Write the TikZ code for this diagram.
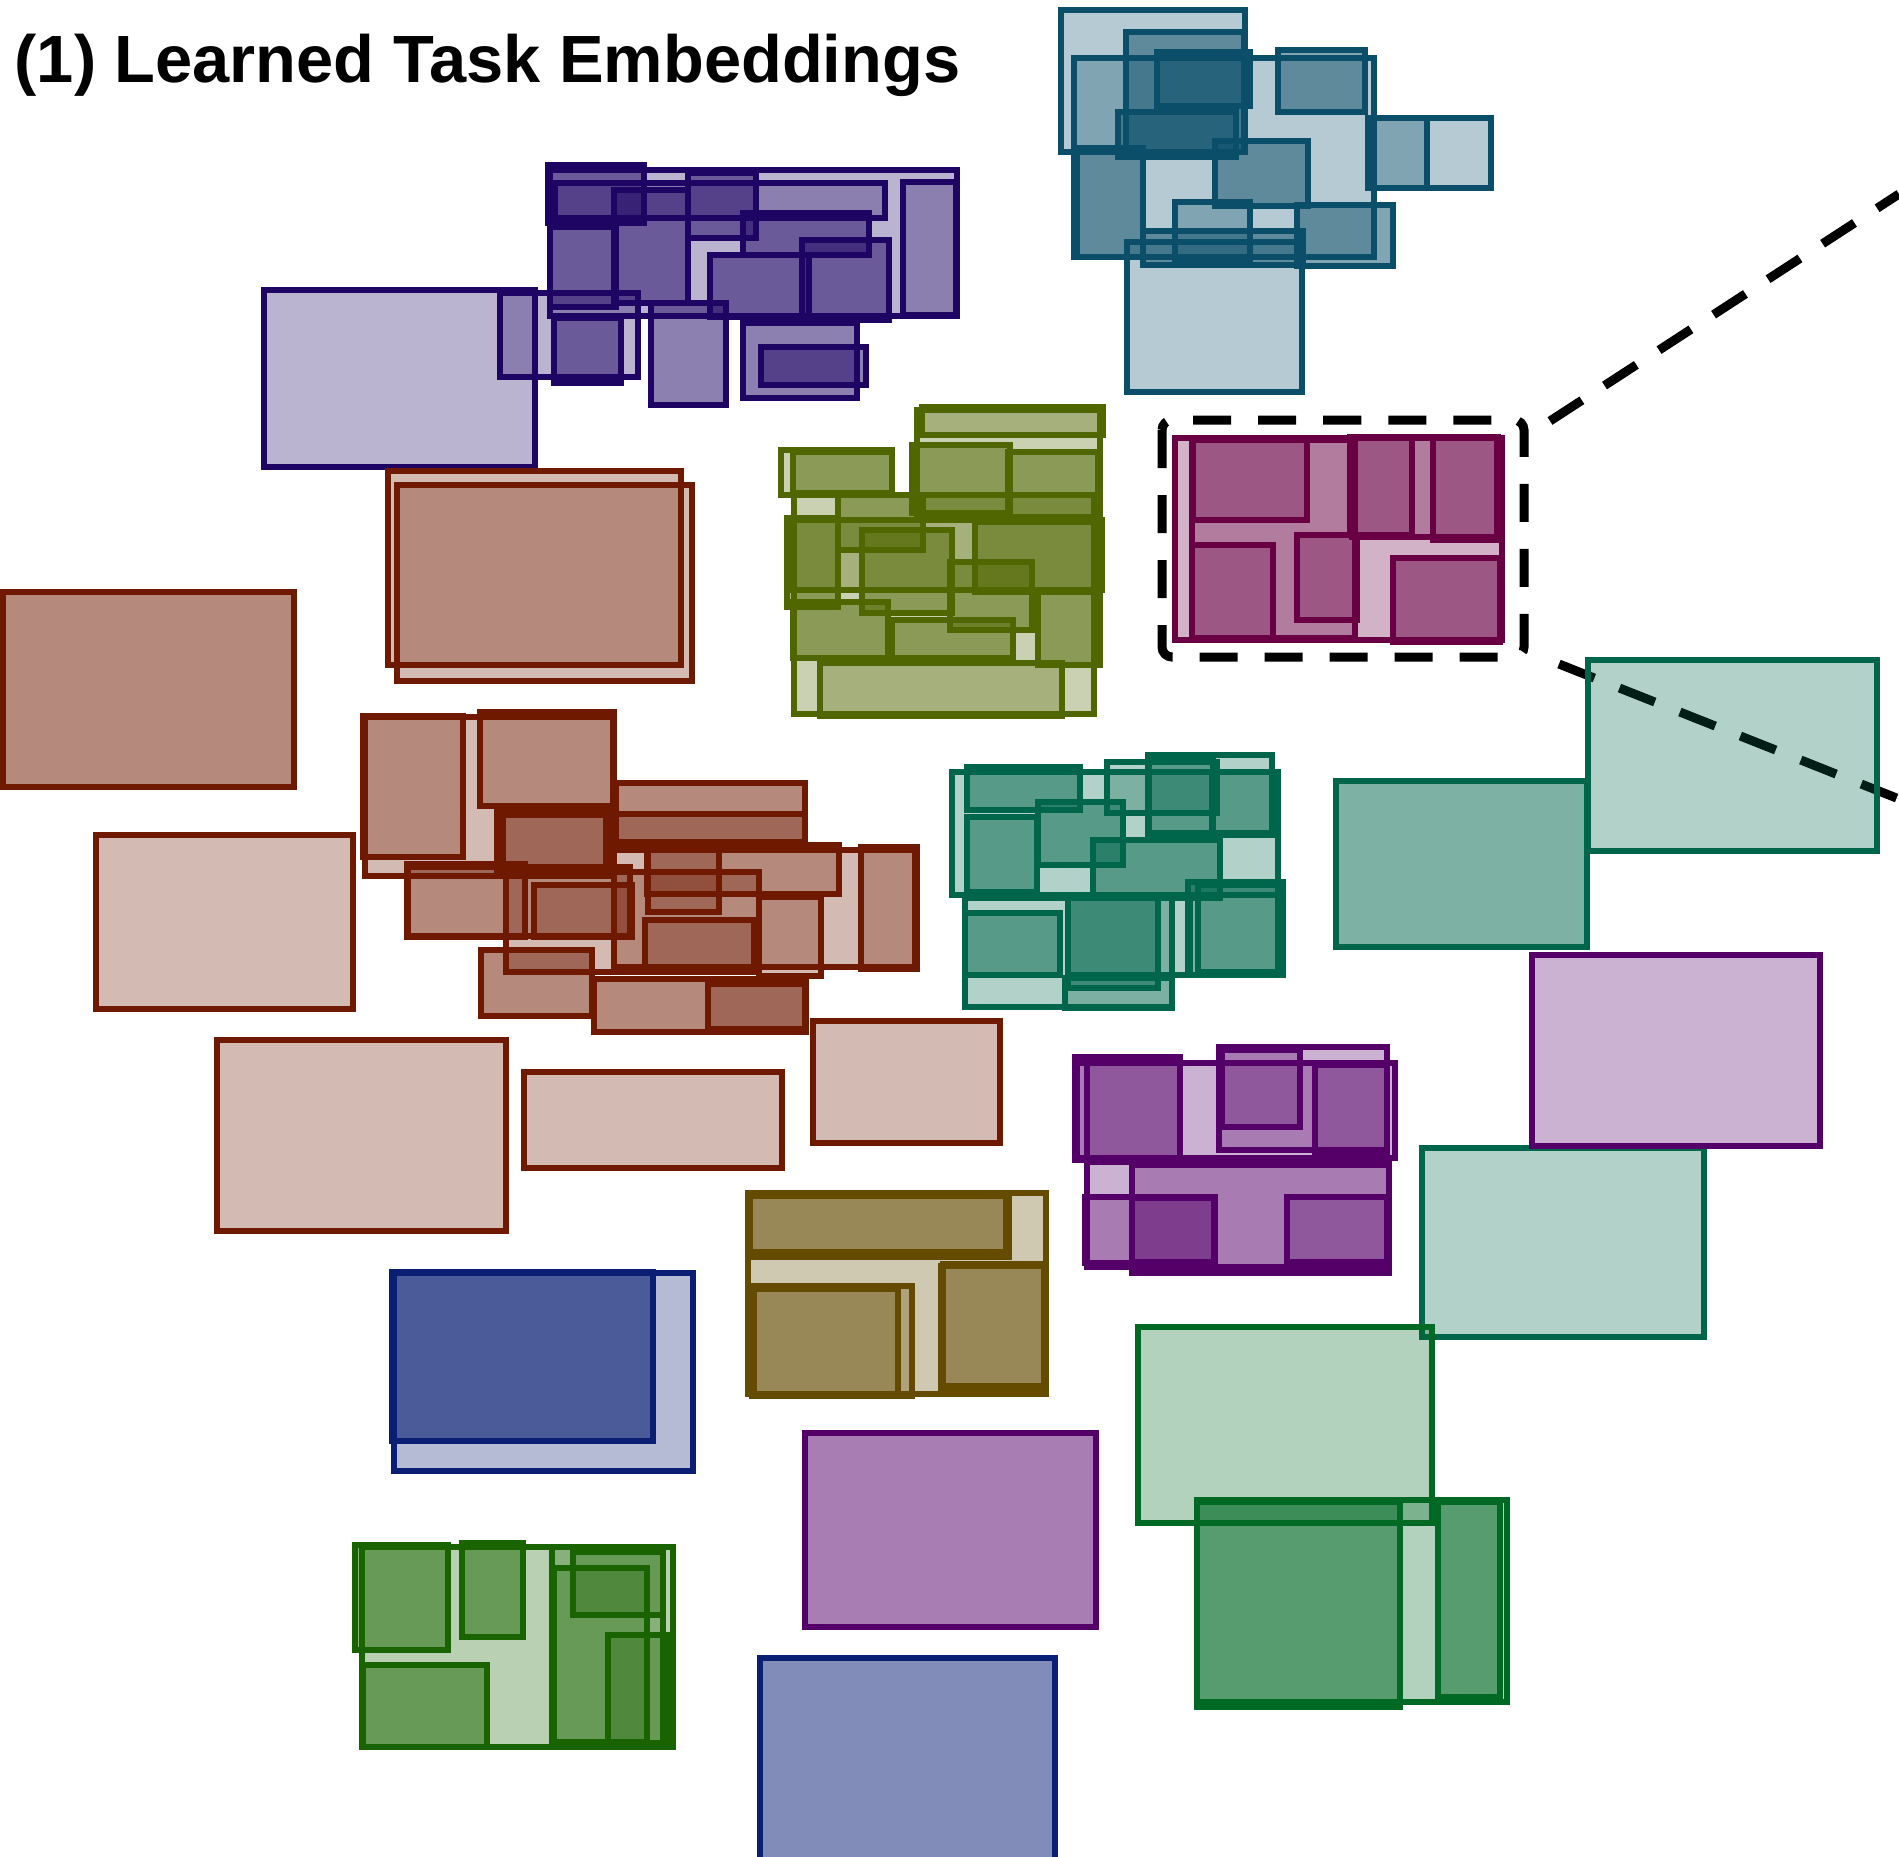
\documentclass[tikz,border=0pt]{standalone}
\usepackage{fontspec}
\setmainfont{Liberation Sans}
\usepackage{xcolor}
\usepackage{tikz}
\usetikzlibrary{calc, positioning}
\definecolor{cTealBlue}{RGB}{10,78,105}
\definecolor{cIndigo}{RGB}{30,5,100}
\definecolor{cOlive}{RGB}{80,102,0}
\definecolor{cRust}{RGB}{110,25,0}
\definecolor{cPlum}{RGB}{105,0,68}
\definecolor{cSea}{RGB}{0,102,75}
\definecolor{cViolet}{RGB}{85,0,105}
\definecolor{cOchre}{RGB}{100,75,0}
\definecolor{cNavy}{RGB}{10,30,115}
\definecolor{cLeaf}{RGB}{25,100,0}
\definecolor{cForest}{RGB}{0,105,35}
\tikzset{
    emb/.style={draw=#1, fill=#1, fill opacity=.3, line width=.55mm},
    embb/.style={emb=#1, fill opacity=.51},
    embc/.style={emb=#1, fill opacity=.62},
    zoombox/.style={draw=black, line width=.9mm, dash pattern=on 3.8mm off 2.7mm},
}
\tikzstyle{heading}=[anchor=base west, inner sep=0pt, font=\fontsize{19}{22}\selectfont\bfseries]

\begin{document}
\begin{tikzpicture}[x=0.01cm, y=-0.01cm]
        \useasboundingbox (0,0) rectangle (1899,1856);

        % Title
        \node[heading] (title) at (14,82) {(1) Learned Task Embeddings};

        %% Teal-blue cluster (x1/y1/x2/y2/opacity)
        \foreach \xa/\ya/\xb/\yb/\o in {1061/10/1245/152/.3, 1126/32/1244/152/.51, 1074/58/1374/257/.3,
                1157/52/1250/106/.51, 1118/112/1236/157/.51, 1077/148/1143/257/.51, 1278/50/1365/112/.51,
                1368/118/1491/188/.3, 1368/118/1427/188/.3, 1215/141/1308/206/.51, 1297/205/1393/266/.51,
                1175/202/1250/260/.3, 1143/231/1303/265/.51, 1127/242/1302/392/.3}
            \draw[emb=cTealBlue, fill opacity=\o] (\xa,\ya) rectangle (\xb,\yb);

        %% Indigo cluster
        \draw[emb=cIndigo] (264,290) rectangle (535,467);
        \foreach \xa/\ya/\xb/\yb/\o in {548/165/644/223/.51, 550/170/957/316/.3, 555/183/885/218/.3,
                614/190/688/303/.51, 688/173/756/238/.51, 743/213/869/255/.51, 710/255/809/317/.51,
                802/240/889/320/.51, 550/227/616/307/.51, 500/293/638/377/.3, 554/318/621/383/.51,
                651/303/726/405/.51, 743/323/857/398/.51, 761/347/866/385/.51, 903/182/956/315/.3}
            \draw[emb=cIndigo, fill opacity=\o] (\xa,\ya) rectangle (\xb,\yb);

        %% Olive cluster
        \foreach \xa/\ya/\xb/\yb/\o in {922/407/1103/435/.3, 917/410/1100/517/.3, 912/445/1010/513/.51,
                1008/452/1098/517/.51, 781/450/892/495/.3, 793/452/892/493/.51, 794/495/1094/714/.3,
                838/495/923/550/.51, 787/518/838/607/.51, 788/520/1102/590/.3, 862/530/952/613/.51,
                975/522/1100/592/.51, 950/562/1032/630/.51, 793/602/888/658/.51, 892/620/1013/658/.51,
                1038/590/1100/665/.51, 820/663/1062/716/.3}
            \draw[emb=cOlive, fill opacity=\o] (\xa,\ya) rectangle (\xb,\yb);

        %% Rust cluster and single boxes
        \draw[emb=cRust] (388,471) rectangle (681,665);
        \draw[emb=cRust] (397,485) rectangle (692,681);
        \draw[embb=cRust] (3,592) rectangle (294,787);
        \draw[emb=cRust] (96,835) rectangle (353,1009);
        \draw[emb=cRust] (217,1040) rectangle (506,1231);
        \draw[emb=cRust] (524,1072) rectangle (782,1168);
        \draw[emb=cRust] (813,1021) rectangle (1000,1143);
        \foreach \xa/\ya/\xb/\yb/\o in {363/716/463/857/.3, 480/712/614/806/.3, 365/717/613/876/.3,
                497/812/612/872/.3, 503/815/606/870/.3, 616/783/805/846/.51, 616/814/805/842/.3,
                407/864/525/937/.3, 408/867/630/936/.3, 534/885/632/937/.3, 647/845/839/894/.3,
                648/849/719/912/.3, 645/920/754/969/.3, 759/897/821/976/.3, 861/847/917/969/.3,
                614/850/915/967/.3, 481/950/592/1016/.51, 594/979/806/1032/.51, 708/984/805/1029/.3,
                506/872/759/972/.3}
            \draw[emb=cRust, fill opacity=\o] (\xa,\ya) rectangle (\xb,\yb);

        %% Plum cluster
        \foreach \xa/\ya/\xb/\yb in {1175/438/1502/640, 1193/438/1307/520, 1350/437/1412/535,
                1352/437/1498/537, 1433/438/1497/540, 1192/545/1273/640, 1297/535/1357/620,
                1192/440/1355/638}
            \draw[emb=cPlum] (\xa,\ya) rectangle (\xb,\yb);
        \draw[embb=cPlum] (1393,558) rectangle (1500,642);

        %% Zoom box
        \draw[zoombox, rounded corners=1mm] (1162,420) rectangle (1524,657);
        \coordinate (zoomTop) at (1550,421);
        \coordinate (zoomBot) at (1559,664);
        \coordinate (edgeTop) at (1899,194);
        \coordinate (edgeBot) at (1899,799);
        \draw[zoombox] (zoomTop) -- (edgeTop);
        \draw[zoombox] (zoomBot) -- (edgeBot);

        %% Sea-green cluster and single boxes
        \foreach \xa/\ya/\xb/\yb/\o in {952/772/1278/895/.3, 967/767/1080/810/.51, 967/817/1037/892/.51,
                1038/802/1123/865/.51, 1107/762/1217/813/.3, 1148/755/1272/835/.3, 1149/757/1213/833/.3,
                1212/772/1272/833/.3, 1093/840/1220/898/.51, 965/898/1172/1007/.3, 965/913/1060/975/.51,
                1068/898/1158/988/.51, 1068/898/1190/975/.3, 1188/882/1283/975/.51, 1198/885/1278/972/.3,
                1065/978/1172/1008/.3}
            \draw[emb=cSea, fill opacity=\o] (\xa,\ya) rectangle (\xb,\yb);
        \draw[embb=cSea] (1336,781) rectangle (1587,947);
        \draw[emb=cSea] (1588,660) rectangle (1877,851);
        \draw[emb=cSea] (1422,1148) rectangle (1704,1337);

        %% Violet cluster and single boxes
        \foreach \xa/\ya/\xb/\yb in {1075/1057/1180/1160, 1087/1059/1180/1158, 1077/1063/1395/1158,
                1219/1047/1387/1150, 1222/1050/1300/1127, 1315/1065/1387/1153,
                1087/1162/1389/1267, 1132/1165/1389/1273, 1085/1197/1215/1263,
                1132/1198/1214/1262, 1287/1197/1387/1262}
            \draw[emb=cViolet] (\xa,\ya) rectangle (\xb,\yb);
        \draw[emb=cViolet] (1532,955) rectangle (1820,1146);
        \draw[embb=cViolet] (805,1433) rectangle (1096,1627);

        %% Ochre cluster
        \foreach \xa/\ya/\xb/\yb in {748/1193/1046/1394, 749/1194/1009/1257, 750/1196/1006/1252,
                752/1286/912/1396, 754/1289/898/1394, 943/1264/1044/1386, 941/1266/1045/1390}
            \draw[emb=cOchre] (\xa,\ya) rectangle (\xb,\yb);

        %% Navy boxes
        \draw[emb=cNavy] (394,1273) rectangle (693,1471);
        \draw[embc=cNavy] (392,1272) rectangle (653,1441);
        \draw[embb=cNavy] (760,1658) rectangle (1055,1860);

        %% Leaf-green cluster
        \foreach \xa/\ya/\xb/\yb in {362/1547/673/1747, 552/1547/663/1747, 573/1552/663/1615,
                554/1568/647/1742, 608/1635/667/1743}
            \draw[emb=cLeaf] (\xa,\ya) rectangle (\xb,\yb);
        \draw[embb=cLeaf] (355,1545) rectangle (448,1650);
        \draw[embb=cLeaf] (462,1543) rectangle (523,1637);
        \draw[embb=cLeaf] (363,1665) rectangle (487,1747);

        %% Forest-green cluster
        \draw[emb=cForest] (1138,1327) rectangle (1432,1523);
        \draw[emb=cForest] (1197,1500) rectangle (1507,1702);
        \draw[embb=cForest] (1197,1502) rectangle (1400,1707);
        \draw[embb=cForest] (1438,1502) rectangle (1500,1697);

    \end{tikzpicture}
\end{document}
